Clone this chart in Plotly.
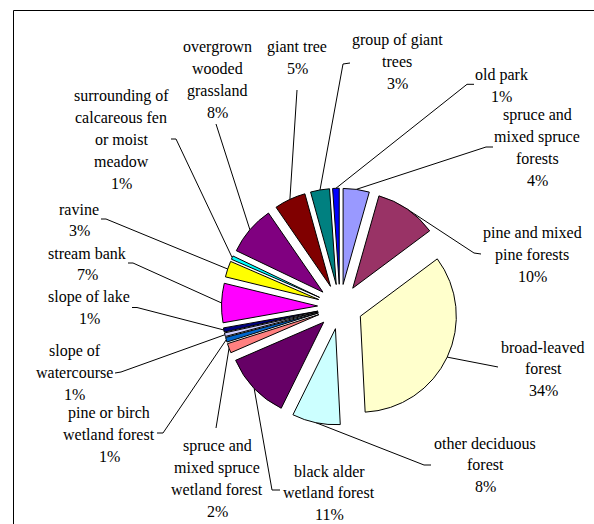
import math
import plotly.graph_objects as go

# ---------------- data ----------------
categories = [
    "spruce and\nmixed spruce\nforests",
    "pine and mixed\npine forests",
    "broad-leaved\nforest",
    "other deciduous\nforest",
    "black alder\nwetland forest",
    "spruce and\nmixed spruce\nwetland forest",
    "pine or birch\nwetland forest",
    "slope of\nwatercourse",
    "slope of lake",
    "stream bank",
    "ravine",
    "surrounding of\ncalcareous fen\nor moist\nmeadow",
    "overgrown\nwooded\ngrassland",
    "giant tree",
    "group of giant\ntrees",
    "old park",
]
shares = [4.4, 10.4, 34.4, 8.1, 11.2, 1.6, 0.8, 0.6, 0.7, 6.6, 2.7, 0.6, 8.3, 5.3, 3.2, 1.1]

# ---------------- styles / layout ----------------
colors = ["#9999FF", "#993366", "#FFFFCC", "#CCFFFF", "#660066", "#FF8080",
          "#0066CC", "#CCCCFF", "#000080", "#FF00FF", "#FFFF00", "#00FFFF",
          "#800080", "#800000", "#008080", "#0000FF"]

W, H = 594, 524
CX, CY, R, PULL = 340.0, 306.7, 96.0, 0.234
FONT = dict(family="Liberation Serif", size=16, color="black")
LINE_GAP = 21.8

# label text centre (x, y of first line), in pixels
label_pos = [(537, 115), (532, 233), (543, 347), (485, 443), (329, 471),
             (217, 446), (109, 413), (74.5, 351), (89, 297), (87, 253),
             (79, 209), (121, 96), (217, 47), (297, 47), (397, 40), (501, 75)]
# leader-line points next to the label (after the slice point), in pixels
leader_pts = [
    [(486, 147), (493, 147)],
    [(474, 253), (481, 254)],
    [(493, 366.5), (498, 367)],
    [(424, 465), (431, 465)],
    [(272, 490), (280, 490)],
    [(216, 428)],
    [(163, 433), (157, 433)],
    [(121, 372), (115, 373)],
    [(137, 307.5), (132, 307.5)],
    [(133, 263), (128, 263)],
    [(106, 219), (101, 219)],
    [(176, 139), (171, 139)],
    [(216, 124)],
    [(297, 90)],
    [(343, 64), (350, 63)],
    [(467, 84.3), (474, 84.3)],
]

box = 2 * R * (1 + PULL)
dom_x = [(CX - box / 2) / W, (CX + box / 2) / W]
dom_y = [1 - (CY + box / 2) / H, 1 - (CY - box / 2) / H]

fig = go.Figure()
fig.add_trace(go.Pie(
    values=shares,
    labels=[c.replace("\n", " ") for c in categories],
    marker=dict(colors=colors, line=dict(color="black", width=1)),
    sort=False, direction="clockwise", rotation=0,
    pull=[PULL] * len(shares),
    textinfo="none", hoverinfo="label+percent",
    domain=dict(x=dom_x, y=dom_y),
    showlegend=False,
))

total = sum(shares)
cum = 0.0
annotations = []
for i, v in enumerate(shares):
    frac = (cum + v / 2) / total
    cum += v
    th = 2 * math.pi * frac
    dist = R * (1 + PULL)
    sx = CX + dist * math.sin(th)
    sy = CY - dist * math.cos(th)
    pts = [(sx, sy)] + leader_pts[i]
    fig.add_trace(go.Scatter(
        x=[p[0] for p in pts], y=[p[1] for p in pts],
        mode="lines", line=dict(color="black", width=1),
        hoverinfo="skip", showlegend=False, xaxis="x", yaxis="y",
    ))
    lines = categories[i].split("\n") + [f"{round(v / total * 100)}%"]
    lx, ly = label_pos[i]
    for k, t in enumerate(lines):
        annotations.append(dict(
            x=lx, y=ly + k * LINE_GAP, xref="x", yref="y", text=t,
            showarrow=False, xanchor="center", yanchor="middle", font=FONT,
        ))

fig.update_layout(
    width=W, height=H,
    margin=dict(l=0, r=0, t=0, b=0),
    paper_bgcolor="white", plot_bgcolor="rgba(0,0,0,0)",
    xaxis=dict(range=[0, W], domain=[0, 1], visible=False, fixedrange=True),
    yaxis=dict(range=[H, 0], domain=[0, 1], visible=False, fixedrange=True),
    annotations=annotations,
    shapes=[dict(type="rect", xref="x", yref="y", x0=13.5, y0=10.5,
                 x1=W + 5, y1=H + 5, line=dict(color="black", width=1),
                 fillcolor="rgba(0,0,0,0)", layer="above")],
)

fig.write_html("out.html")
